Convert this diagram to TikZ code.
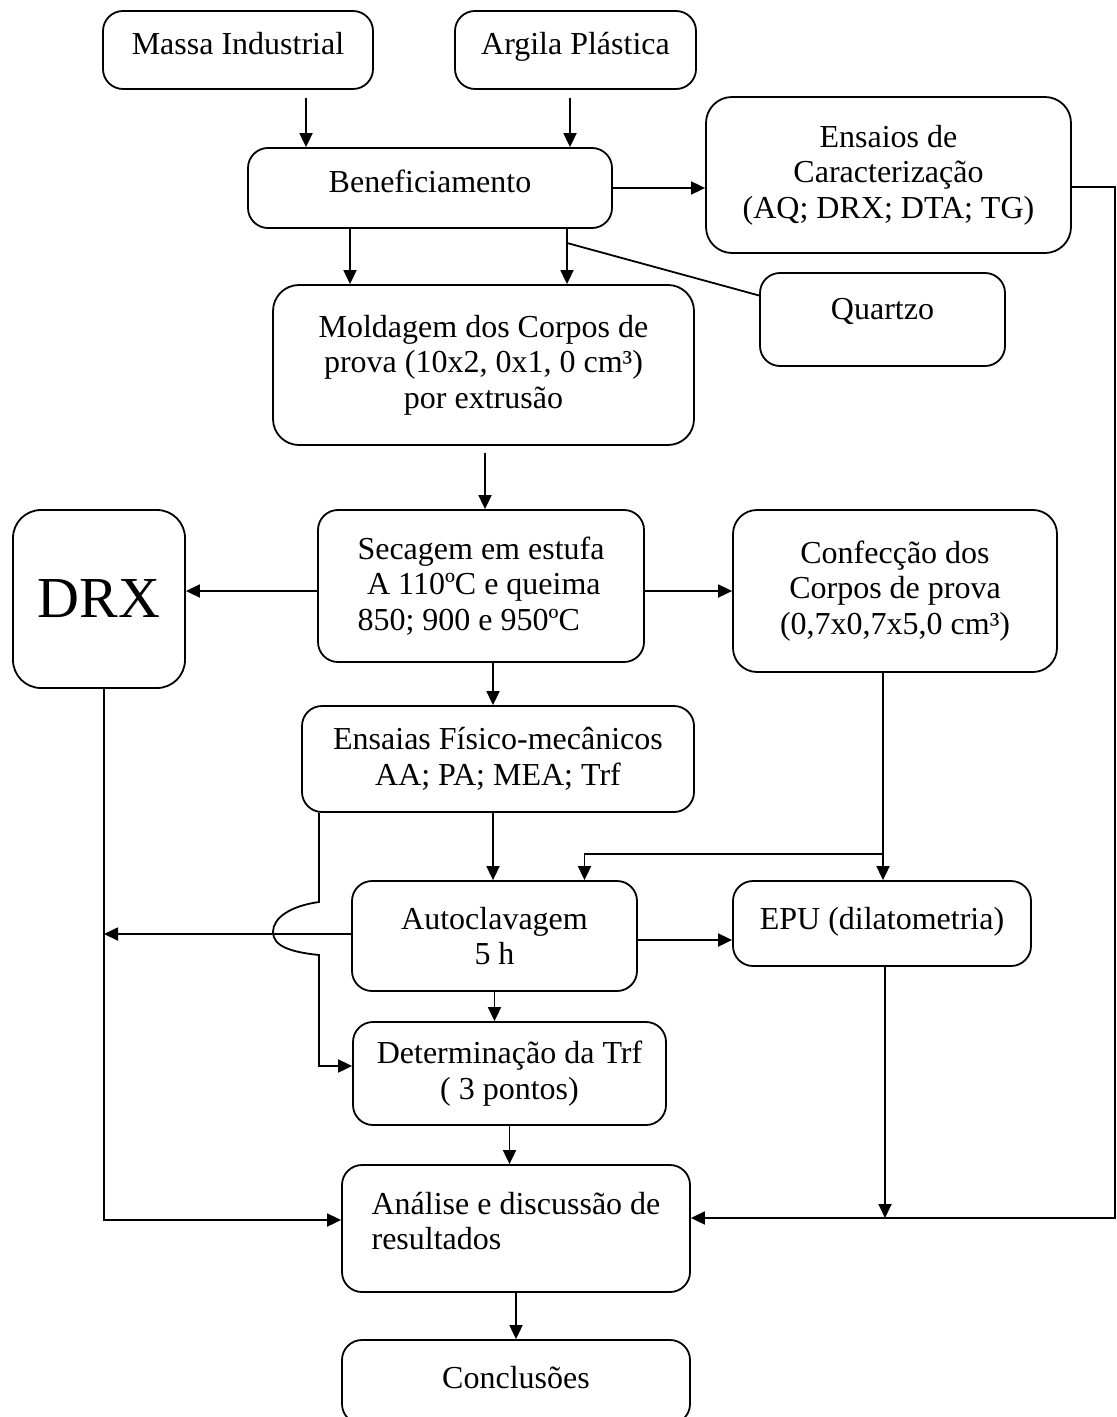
\documentclass[tikz,border=0pt]{standalone}
\usepackage{fontspec}
\setmainfont{Liberation Serif}
\usetikzlibrary{arrows.meta}

\begin{document}
\begin{tikzpicture}[x=0.5pt,y=-0.5pt,line width=0.9pt,
	caixa/.style={draw,rounded corners=10pt,align=center,inner sep=0pt,font=\fontsize{16}{17.8}\selectfont},
	seta/.style={-{Triangle[length=7pt,width=6.5pt]}}]
			\useasboundingbox (0,0) rectangle (1116,1417);
			\node[caixa,minimum width=135pt,minimum height=39pt,text depth=6.8pt] (massa) at (238,50) {Massa Industrial};
			\node[caixa,minimum width=120.5pt,minimum height=39pt,text depth=6.8pt] (argila) at (575.5,50) {Argila Plástica};
			\node[caixa,minimum width=182pt,minimum height=40pt,text depth=6.8pt] (benef) at (430,188) {Beneficiamento};
			\node[caixa,minimum width=182.5pt,minimum height=78pt,rounded corners=13pt] (ensaios) at (888.5,175) {Ensaios de\\Caracterização\\(AQ; DRX; DTA; TG)};
			\node[caixa,minimum width=122.5pt,minimum height=46.5pt,text depth=10.3pt] (quartzo) at (882.5,319.5) {Quartzo};
			\node[caixa,minimum width=210.5pt,minimum height=80pt,rounded corners=13pt] (molde) at (483.5,365) {Moldagem dos Corpos de\\prova (10x2, 0x1, 0 cm³)\\por extrusão};
			\node[caixa,minimum width=163pt,minimum height=76pt,align=left] (secagem) at (481,586) {Secagem em estufa\\\hspace{0.3em}A 110ºC e queima\\850; 900 e 950ºC};
			\node[caixa,minimum width=86pt,minimum height=89pt,rounded corners=14pt,font=\fontsize{29}{32}\selectfont] (drx) at (99,599) {DRX};
			\node[caixa,minimum width=162pt,minimum height=81pt,rounded corners=12pt] (confec) at (895,591) {Confecção dos\\Corpos de prova\\(0,7x0,7x5,0 cm³)};
			\node[caixa,minimum width=196pt,minimum height=53pt] (ensfis) at (498,759) {Ensaias Físico-mecânicos\\AA; PA; MEA; Trf};
			\node[caixa,minimum width=142.5pt,minimum height=55pt] (autocl) at (494.5,936) {Autoclavagem\\5 h};
			\node[caixa,minimum width=149pt,minimum height=42.5pt,text depth=5.5pt] (epu) at (882,923.5) {EPU (dilatometria)};
			\node[caixa,minimum width=156.5pt,minimum height=51.5pt] (determ) at (509.5,1073.5) {Determinação da Trf\\( 3 pontos)};
			\node[caixa,minimum width=174pt,minimum height=63.5pt,align=left] (analise) at (516,1228.5) {Análise e discussão de\\resultados\\[-10.3pt]};
			\node[caixa,minimum width=174pt,minimum height=42pt,text depth=4.8pt] (conclus) at (516,1382) {Conclusões};
			% entradas
			\draw[seta,shorten <=4pt] (massa.south -| 306,0) -- (benef.north -| 306,0);
			\draw[seta,shorten <=4pt] (argila.south -| 570,0) -- (benef.north -| 570,0);
			\draw[seta] (benef.east) -- (benef.east -| ensaios.west);
			\draw[seta] (benef.south -| 350,0) -- (molde.north -| 350,0);
			\draw[seta] (benef.south -| 567,0) -- (molde.north -| 567,0);
			\coordinate (qz) at (567,243);
			\draw (qz) -- ([yshift=12pt]quartzo.west);
			\draw[seta,shorten <=3.5pt] (molde.south -| 485,0) -- (secagem.north -| 485,0);
			\draw[seta] (secagem.west |- 0,591) -- (drx.east |- 0,591);
			\draw[seta] (secagem.east |- 0,591) -- (confec.west |- 0,591);
			\draw[seta] (secagem.south -| 493,0) -- (ensfis.north -| 493,0);
			\draw[seta] (ensfis.south -| 493,0) -- (autocl.north -| 493,0);
			% corpos de prova
			\coordinate (jc) at (883,854);
			\draw (confec.south -| jc) -- (jc);
			\draw[seta] (jc) -- (epu.north -| jc);
			\draw[seta] (jc) -| ([xshift=45pt]autocl.north);
			\draw[seta] (autocl.east |- 0,940) -- (epu.west |- 0,940);
			\draw[seta] (autocl.west |- 0,934) -- (104,934);
			% desvio
			\draw[seta] (ensfis.south -| 319,0) -- (319,902) .. controls (290,906) and (273,918) .. (273,932)
				.. controls (273,946) and (290,952) .. (319,955) |- ([yshift=3.75pt]determ.west);
			\draw[seta] (autocl.south) -- (autocl.south |- determ.north);
			\draw[seta] (determ.south) -- (determ.south |- analise.north);
			\draw[seta] (drx.south -| 104,0) |- ([yshift=4.25pt]analise.west);
			\coordinate (rt) at (1115,1218);
			\draw[seta] (ensaios.east |- 0,187) -| (rt) -- ([yshift=5.25pt]analise.east);
			\draw[seta] (epu.south -| 885,0) -- (885,1218);
			\draw[seta] (analise.south) -- (conclus.north);
		\end{tikzpicture}
\end{document}
